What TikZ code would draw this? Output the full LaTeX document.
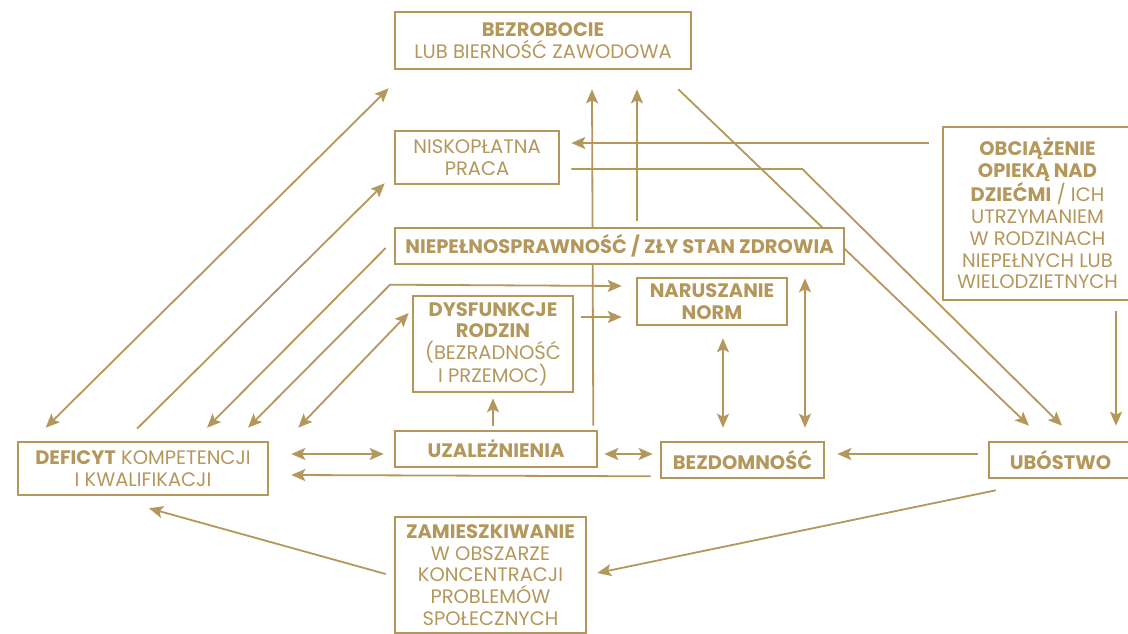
\documentclass[tikz,border=0pt]{standalone}
\usepackage{fontspec}
\setmainfont{Poppins}
\usepackage{tikz}
\usetikzlibrary{arrows.meta,backgrounds}

\definecolor{gold}{RGB}{180,151,90}

\tikzset{
  box/.style={draw=gold, line width=2.6pt, fill=white, text=gold, align=center,
    inner sep=0pt, font=\fontsize{19.5}{21.7}\selectfont},
  tip/.tip={Stealth[length=14pt,width=12pt,inset=3pt]},
  link/.style={draw=gold, line width=1.8pt, -tip},
  twoway/.style={draw=gold, line width=1.8pt, tip-tip},
}

\begin{document}
\begin{tikzpicture}[x=1pt, y=-1pt]
    \useasboundingbox (0,0) rectangle (1128,634);

    % Top row
    \node[box, minimum width=296pt, minimum height=57pt] (bez) at (543,40.5)
        {\textbf{BEZROBOCIE}\\LUB BIERNOŚĆ ZAWODOWA};
    \node[box, minimum width=164pt, minimum height=53pt] (nisk) at (477,157.5)
        {NISKOPŁATNA\\PRACA};
    \node[box, minimum width=449pt, minimum height=36pt] (niep) at (619.5,246)
        {\textbf{NIEPEŁNOSPRAWNOŚĆ / ZŁY STAN ZDROWIA}};
    \node[box, minimum width=189pt, minimum height=173pt] (obc) at (1037.5,213.5)
        {\textbf{OBCIĄŻENIE}\\\textbf{OPIEKĄ NAD}\\\textbf{DZIEĆMI} / ICH\\UTRZYMANIEM\\W RODZINACH\\NIEPEŁNYCH LUB\\WIELODZIETNYCH};

    % Middle
    \node[box, minimum width=160pt, minimum height=96pt] (dys) at (493,344)
        {\textbf{DYSFUNKCJE}\\\textbf{RODZIN}\\(BEZRADNOŚĆ\\I PRZEMOC)};
    \node[box, minimum width=150pt, minimum height=47pt] (nar) at (712,301.5)
        {\textbf{NARUSZANIE}\\\textbf{NORM}};

    % Bottom row
    \node[box, minimum width=250pt, minimum height=53pt] (def) at (143,468.5)
        {\textbf{DEFICYT} KOMPETENCJI\\I KWALIFIKACJI};
    \node[box, minimum width=202pt, minimum height=36pt] (uza) at (496,449)
        {\textbf{UZALEŻNIENIA}};
    \node[box, minimum width=163pt, minimum height=36pt] (bzd) at (742.5,460)
        {\textbf{BEZDOMNOŚĆ}};
    \node[box, minimum width=143pt, minimum height=36pt] (ubo) at (1060.5,460)
        {\textbf{UBÓSTWO}};
    \node[box, minimum width=191pt, minimum height=116pt] (zam) at (490.5,575)
        {\textbf{ZAMIESZKIWANIE}\\W OBSZARZE\\KONCENTRACJI\\PROBLEMÓW\\SPOŁECZNYCH};

    % Lines running behind the health box
    \begin{scope}[on background layer]
        \draw[link] ([shift={(-5,-4)}]uza.north east) -- ([shift={(49,19)}]bez.south);
        \draw[link] ([shift={(-14,19)}]bez.south east) -- ([shift={(-31.5,-15)}]ubo.north);
    \end{scope}

    % Deficit links
    \draw[twoway] ([shift={(29,-13)}]def.north west) -- ([shift={(-5,18)}]bez.south west);
    \draw[link] ([shift={(-6,-12)}]def.north) -- ([shift={(-9,-2)}]nisk.south west);
    \draw[link] ([shift={(-8,2)}]niep.west) -- ([shift={(64,-13)}]def.north);
    \draw[twoway] ([shift={(105,-13)}]def.north) -- ++(142,-143) -- ([shift={(-14,-15.5)}]nar.west);
    \draw[twoway] ([shift={(29,-13)}]def.north east) -- ([shift={(-3,-31)}]dys.west);
    \draw[twoway] ([shift={(22,-14.5)}]def.east) -- ([shift={(-10,5)}]uza.west);
    \draw[link] ([shift={(-9,-3)}]bzd.south west) -- ([shift={(22,6.5)}]def.east);
    \draw[link] ([shift={(-8,-1)}]zam.west) -- ([shift={(6,12)}]def.south);

    % Centre
    \draw[link] ([shift={(-3,-4)}]uza.north) -- ([shift={(0,5)}]dys.south);
    \draw[link] ([shift={(7,-27)}]dys.east) -- ([shift={(-14,15.5)}]nar.west);
    \draw[link] ([shift={(17.5,-6)}]niep.north) -- ([shift={(94,19)}]bez.south);
    \draw[twoway] ([shift={(6,5)}]uza.east) -- ([shift={(-7,-6)}]bzd.west);
    \draw[twoway] ([shift={(11,12)}]nar.south) -- ([shift={(-19.5,-13)}]bzd.north);
    \draw[twoway] ([shift={(185.5,13)}]niep.south) -- ([shift={(62.5,-13)}]bzd.north);

    % Right side
    \draw[link] ([shift={(-13,-70.5)}]obc.west) -- ([shift={(11,-14.5)}]nisk.east);
    \draw[link] ([shift={(11,11.5)}]nisk.east) -- ++(231,0) -- ([shift={(1.5,-15)}]ubo.north);
    \draw[link] ([shift={(78.5,10)}]obc.south) -- ([shift={(55.5,-15)}]ubo.north);
    \draw[link] ([shift={(-10,-6)}]ubo.west) -- ([shift={(12,-6)}]bzd.east);
    \draw[link] ([shift={(8,11)}]ubo.south west) -- ([shift={(10,-2)}]zam.east);

\end{tikzpicture}
\end{document}
